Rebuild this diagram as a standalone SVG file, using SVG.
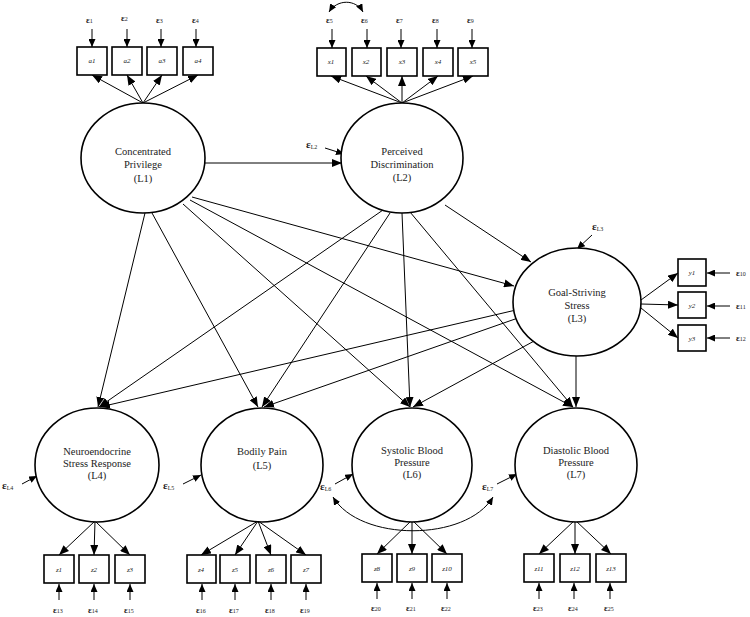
<svg xmlns="http://www.w3.org/2000/svg" width="750" height="617" viewBox="0 0 750 617">
<defs>
<marker id="ah" markerUnits="userSpaceOnUse" markerWidth="10" markerHeight="8" refX="10" refY="4" orient="auto"><path d="M0,0 L10,4 L0,8 z" fill="#000"/></marker>
<marker id="as" markerUnits="userSpaceOnUse" markerWidth="8" markerHeight="7" refX="8" refY="3.5" orient="auto"><path d="M0,0 L8,3.5 L0,7 z" fill="#000"/></marker>
<marker id="ad" markerUnits="userSpaceOnUse" markerWidth="8" markerHeight="7" refX="8" refY="3.5" orient="auto-start-reverse"><path d="M0,0 L8,3.5 L0,7 z" fill="#000"/></marker>
</defs>
<style>
.lat{fill:#fff;stroke:#000;stroke-width:1.6}
.box{fill:#fff;stroke:#000;stroke-width:1.6}
.ln{stroke:#000;stroke-width:1;fill:none;marker-end:url(#ah)}
.er{stroke:#000;stroke-width:1;fill:none;marker-end:url(#as)}
.dbl{stroke:#000;stroke-width:1;fill:none;marker-start:url(#ad);marker-end:url(#ad)}
text{font-family:"Liberation Serif","DejaVu Serif",serif;fill:#222}
.lt{font-size:10.5px;text-anchor:middle}
.bt{font-size:7px;text-anchor:middle;font-style:italic}
.et{font-size:9px;font-weight:bold}
.el{font-size:11px;font-weight:bold}
.sub{font-size:6px;font-weight:normal}
</style>
<g id="connectors">
<line class="ln" x1="205" y1="163" x2="342" y2="163"/>
<line class="ln" x1="192" y1="197" x2="514" y2="286"/>
<line class="ln" x1="445" y1="205" x2="531" y2="262"/>
<line class="ln" x1="145" y1="213" x2="98" y2="407"/>
<line class="ln" x1="152" y1="213" x2="258" y2="407"/>
<line class="ln" x1="183" y1="204" x2="410" y2="407"/>
<line class="ln" x1="190" y1="200" x2="573" y2="407"/>
<line class="ln" x1="383" y1="210" x2="99" y2="407"/>
<line class="ln" x1="390" y1="213" x2="262" y2="407"/>
<line class="ln" x1="402" y1="213" x2="410" y2="407"/>
<line class="ln" x1="410" y1="212" x2="573" y2="407"/>
<line class="ln" x1="516" y1="310" x2="100" y2="407"/>
<line class="ln" x1="518" y1="318" x2="264" y2="407"/>
<line class="ln" x1="536" y1="340" x2="413" y2="407"/>
<line class="ln" x1="576" y1="356" x2="576" y2="407"/>
<line class="ln" x1="641" y1="300" x2="678" y2="273"/>
<line class="ln" x1="641" y1="304" x2="678" y2="305"/>
<line class="ln" x1="641" y1="308" x2="678" y2="338"/>
<line class="ln" x1="143" y1="103" x2="92" y2="75"/>
<line class="ln" x1="143" y1="103" x2="127" y2="75"/>
<line class="ln" x1="143" y1="103" x2="162" y2="75"/>
<line class="ln" x1="143" y1="103" x2="198" y2="75"/>
<line class="ln" x1="402" y1="103" x2="331" y2="76"/>
<line class="ln" x1="402" y1="103" x2="366" y2="76"/>
<line class="ln" x1="402" y1="103" x2="402" y2="76"/>
<line class="ln" x1="402" y1="103" x2="438" y2="76"/>
<line class="ln" x1="402" y1="103" x2="473" y2="76"/>
<line class="ln" x1="95" y1="521" x2="59" y2="555"/>
<line class="ln" x1="95" y1="521" x2="94" y2="555"/>
<line class="ln" x1="95" y1="521" x2="130" y2="555"/>
<line class="ln" x1="258" y1="521" x2="201" y2="555"/>
<line class="ln" x1="258" y1="521" x2="235" y2="555"/>
<line class="ln" x1="258" y1="521" x2="271" y2="555"/>
<line class="ln" x1="258" y1="521" x2="306" y2="555"/>
<line class="ln" x1="412" y1="520" x2="377" y2="554"/>
<line class="ln" x1="412" y1="520" x2="412" y2="554"/>
<line class="ln" x1="412" y1="520" x2="447" y2="554"/>
<line class="ln" x1="575" y1="520" x2="539" y2="554"/>
<line class="ln" x1="575" y1="520" x2="575" y2="554"/>
<line class="ln" x1="575" y1="520" x2="611" y2="554"/>
<!-- error arrows: top indicators -->
<line class="er" x1="92" y1="29" x2="92" y2="47"/>
<line class="er" x1="127" y1="29" x2="127" y2="47"/>
<line class="er" x1="161" y1="29" x2="161" y2="47"/>
<line class="er" x1="196" y1="29" x2="196" y2="47"/>
<line class="er" x1="332" y1="29" x2="332" y2="48"/>
<line class="er" x1="367" y1="29" x2="367" y2="48"/>
<line class="er" x1="401" y1="29" x2="401" y2="48"/>
<line class="er" x1="437" y1="29" x2="437" y2="48"/>
<line class="er" x1="472" y1="29" x2="472" y2="48"/>
<path class="dbl" d="M329,12 C337,-1 356,-1 363,12"/>
<!-- right -->
<line class="er" x1="730" y1="273" x2="707" y2="273"/>
<line class="er" x1="730" y1="306" x2="707" y2="306"/>
<line class="er" x1="730" y1="338" x2="707" y2="338"/>
<!-- bottom -->
<line class="er" x1="59" y1="600" x2="59" y2="584"/>
<line class="er" x1="94" y1="600" x2="94" y2="584"/>
<line class="er" x1="130" y1="600" x2="130" y2="584"/>
<line class="er" x1="202" y1="600" x2="202" y2="584"/>
<line class="er" x1="235" y1="600" x2="235" y2="584"/>
<line class="er" x1="271" y1="600" x2="271" y2="584"/>
<line class="er" x1="306" y1="600" x2="306" y2="584"/>
<line class="er" x1="377" y1="599" x2="377" y2="583"/>
<line class="er" x1="412" y1="599" x2="412" y2="583"/>
<line class="er" x1="447" y1="599" x2="447" y2="583"/>
<line class="er" x1="539" y1="599" x2="539" y2="583"/>
<line class="er" x1="574" y1="599" x2="574" y2="583"/>
<line class="er" x1="610" y1="599" x2="610" y2="583"/>
<!-- latent errors -->
<line class="er" x1="325" y1="148" x2="344" y2="154"/>
<line class="er" x1="592" y1="235" x2="577" y2="249"/>
<line class="er" x1="22" y1="484" x2="37" y2="476"/>
<line class="er" x1="183" y1="484" x2="201" y2="475"/>
<line class="er" x1="335" y1="484" x2="353" y2="474"/>
<line class="er" x1="497" y1="484" x2="517" y2="474"/>
<path class="dbl" d="M333,497 C360,542 466,542 493,497"/>
</g>
<g id="L1"><ellipse class="lat" cx="143" cy="158" rx="62" ry="55"/><text class="lt" x="143" y="155">Concentrated</text><text class="lt" x="143" y="168">Privilege</text><text class="lt" x="143" y="182">(L1)</text></g>
<g id="L2"><ellipse class="lat" cx="402" cy="158" rx="61" ry="55"/><text class="lt" x="402" y="155">Perceived</text><text class="lt" x="402" y="168">Discrimination</text><text class="lt" x="402" y="181">(L2)</text></g>
<g id="L3"><ellipse class="lat" cx="577" cy="302" rx="64" ry="54"/><text class="lt" x="577" y="296">Goal-Striving</text><text class="lt" x="577" y="309">Stress</text><text class="lt" x="577" y="322">(L3)</text></g>
<g id="L4"><ellipse class="lat" cx="97" cy="465" rx="62" ry="57"/><text class="lt" x="97" y="455">Neuroendocrine</text><text class="lt" x="97" y="467">Stress Response</text><text class="lt" x="97" y="479">(L4)</text></g>
<g id="L5"><ellipse class="lat" cx="262" cy="465" rx="61" ry="57"/><text class="lt" x="262" y="455">Bodily Pain</text><text class="lt" x="262" y="469">(L5)</text></g>
<g id="L6"><ellipse class="lat" cx="412" cy="465" rx="60" ry="57"/><text class="lt" x="412" y="454">Systolic Blood</text><text class="lt" x="412" y="466">Pressure</text><text class="lt" x="412" y="478">(L6)</text></g>
<g id="L7"><ellipse class="lat" cx="576" cy="465" rx="61" ry="57"/><text class="lt" x="576" y="454">Diastolic Blood</text><text class="lt" x="576" y="466">Pressure</text><text class="lt" x="576" y="478">(L7)</text></g>
<g id="a1"><rect class="box" x="77" y="47" width="30" height="28"/><text class="bt" x="92" y="63">a1</text></g>
<g id="a2"><rect class="box" x="112" y="47" width="30" height="28"/><text class="bt" x="127" y="63">a2</text></g>
<g id="a3"><rect class="box" x="147" y="47" width="30" height="28"/><text class="bt" x="162" y="63">a3</text></g>
<g id="a4"><rect class="box" x="183" y="47" width="30" height="28"/><text class="bt" x="198" y="63">a4</text></g>
<g id="x1"><rect class="box" x="317" y="48" width="29" height="28"/><text class="bt" x="331" y="64">x1</text></g>
<g id="x2"><rect class="box" x="352" y="48" width="29" height="28"/><text class="bt" x="366" y="64">x2</text></g>
<g id="x3"><rect class="box" x="387" y="48" width="30" height="28"/><text class="bt" x="402" y="64">x3</text></g>
<g id="x4"><rect class="box" x="423" y="48" width="30" height="28"/><text class="bt" x="438" y="64">x4</text></g>
<g id="x5"><rect class="box" x="458" y="48" width="30" height="28"/><text class="bt" x="473" y="64">x5</text></g>
<g id="y1"><rect class="box" x="678" y="259" width="28" height="27"/><text class="bt" x="692" y="275">y1</text></g>
<g id="y2"><rect class="box" x="678" y="292" width="28" height="26"/><text class="bt" x="692" y="308">y2</text></g>
<g id="y3"><rect class="box" x="678" y="325" width="28" height="26"/><text class="bt" x="692" y="341">y3</text></g>
<g id="z1"><rect class="box" x="44" y="555" width="30" height="28"/><text class="bt" x="59" y="572">z1</text></g>
<g id="z2"><rect class="box" x="79" y="555" width="30" height="28"/><text class="bt" x="94" y="572">z2</text></g>
<g id="z3"><rect class="box" x="115" y="555" width="30" height="28"/><text class="bt" x="130" y="572">z3</text></g>
<g id="z4"><rect class="box" x="187" y="555" width="29" height="28"/><text class="bt" x="201" y="572">z4</text></g>
<g id="z5"><rect class="box" x="220" y="555" width="30" height="28"/><text class="bt" x="235" y="572">z5</text></g>
<g id="z6"><rect class="box" x="256" y="555" width="30" height="28"/><text class="bt" x="271" y="572">z6</text></g>
<g id="z7"><rect class="box" x="291" y="555" width="30" height="28"/><text class="bt" x="306" y="572">z7</text></g>
<g id="z8"><rect class="box" x="362" y="554" width="30" height="28"/><text class="bt" x="377" y="571">z8</text></g>
<g id="z9"><rect class="box" x="397" y="554" width="30" height="28"/><text class="bt" x="412" y="571">z9</text></g>
<g id="z10"><rect class="box" x="432" y="554" width="30" height="28"/><text class="bt" x="447" y="571">z10</text></g>
<g id="z11"><rect class="box" x="524" y="554" width="30" height="28"/><text class="bt" x="539" y="571">z11</text></g>
<g id="z12"><rect class="box" x="560" y="554" width="30" height="28"/><text class="bt" x="575" y="571">z12</text></g>
<g id="z13"><rect class="box" x="596" y="554" width="30" height="28"/><text class="bt" x="611" y="571">z13</text></g>
<g id="errors">
<text class="et" x="86" y="23">ε<tspan class="sub">1</tspan></text>
<text class="et" x="121" y="21">ε<tspan class="sub">2</tspan></text>
<text class="et" x="156" y="23">ε<tspan class="sub">3</tspan></text>
<text class="et" x="192" y="23">ε<tspan class="sub">4</tspan></text>
<text class="et" x="326" y="23">ε<tspan class="sub">5</tspan></text>
<text class="et" x="361" y="23">ε<tspan class="sub">6</tspan></text>
<text class="et" x="396" y="23">ε<tspan class="sub">7</tspan></text>
<text class="et" x="432" y="23">ε<tspan class="sub">8</tspan></text>
<text class="et" x="467" y="23">ε<tspan class="sub">9</tspan></text>
<text class="et" x="736" y="276">ε<tspan class="sub">10</tspan></text>
<text class="et" x="736" y="309">ε<tspan class="sub">11</tspan></text>
<text class="et" x="736" y="341">ε<tspan class="sub">12</tspan></text>
<text class="et" x="53" y="613">ε<tspan class="sub">13</tspan></text>
<text class="et" x="88" y="613">ε<tspan class="sub">14</tspan></text>
<text class="et" x="124" y="613">ε<tspan class="sub">15</tspan></text>
<text class="et" x="196" y="613">ε<tspan class="sub">16</tspan></text>
<text class="et" x="229" y="613">ε<tspan class="sub">17</tspan></text>
<text class="et" x="265" y="613">ε<tspan class="sub">18</tspan></text>
<text class="et" x="300" y="613">ε<tspan class="sub">19</tspan></text>
<text class="et" x="371" y="611">ε<tspan class="sub">20</tspan></text>
<text class="et" x="406" y="611">ε<tspan class="sub">21</tspan></text>
<text class="et" x="441" y="611">ε<tspan class="sub">22</tspan></text>
<text class="et" x="533" y="611">ε<tspan class="sub">23</tspan></text>
<text class="et" x="568" y="611">ε<tspan class="sub">24</tspan></text>
<text class="et" x="604" y="611">ε<tspan class="sub">25</tspan></text>
<text class="el" x="306" y="148">ε<tspan class="sub" dy="1">L2</tspan></text>
<text class="el" x="592" y="230">ε<tspan class="sub" dy="1">L3</tspan></text>
<text class="el" x="2" y="489">ε<tspan class="sub" dy="1">L4</tspan></text>
<text class="el" x="163" y="489">ε<tspan class="sub" dy="1">L5</tspan></text>
<text class="el" x="320" y="490">ε<tspan class="sub" dy="1">L6</tspan></text>
<text class="el" x="482" y="490">ε<tspan class="sub" dy="1">L7</tspan></text>
</g>
</svg>
